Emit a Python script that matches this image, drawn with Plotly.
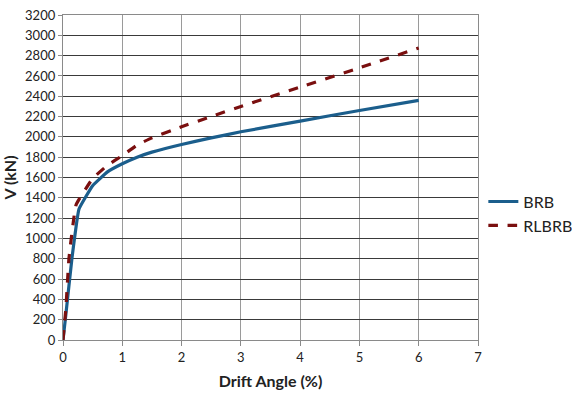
import plotly.graph_objects as go

# Drift angle (%) vs. storey shear V (kN)
brb_drift = [0, 0.05, 0.15, 0.27, 0.5, 0.75, 1.0, 1.25, 1.5, 2.0, 2.5, 3.0, 4.0, 5.0, 6.0]
brb_shear = [0, 260, 800, 1290, 1520, 1655, 1735, 1800, 1850, 1925, 1990, 2050, 2155, 2260, 2360]

rlbrb_drift = [0, 0.05, 0.1, 0.22, 0.5, 0.75, 1.0, 1.25, 1.5, 2.0, 2.5, 3.0, 4.0, 5.0, 6.0]
rlbrb_shear = [0, 320, 800, 1330, 1590, 1720, 1815, 1920, 1990, 2100, 2200, 2300, 2490, 2680, 2875]

x_ticks = [0, 1, 2, 3, 4, 5, 6, 7]
y_ticks = list(range(0, 3201, 200))

FONT = "Lato, Carlito, Calibri, sans-serif"

fig = go.Figure()
fig.add_trace(go.Scatter(
    x=brb_drift, y=brb_shear, name="BRB", mode="lines",
    line=dict(color="#1B5E8C", width=3.2, shape="spline", smoothing=0.3),
))
fig.add_trace(go.Scatter(
    x=rlbrb_drift, y=rlbrb_shear, name="RLBRB", mode="lines",
    line=dict(color="#7A0F0F", width=3.2, dash="dash", shape="spline", smoothing=0.3),
))

fig.update_layout(
    width=572, height=403,
    margin=dict(l=63, r=94, t=15, b=63, autoexpand=False),
    paper_bgcolor="white", plot_bgcolor="white",
    font=dict(family=FONT, size=13, color="#222"),
    legend=dict(
        xref="container", yref="container",
        x=0.845, y=0.47, xanchor="left", yanchor="middle",
        font=dict(size=16, color="#222"),
        tracegroupgap=14, itemwidth=30,
    ),
    xaxis=dict(
        range=[0, 7], tickvals=x_ticks, showgrid=True, gridcolor="#9a9a9a", gridwidth=1.3,
        showline=True, linecolor="#8a8a8a", linewidth=1.3, mirror=True,
        ticks="outside", ticklen=5, tickcolor="#8a8a8a", zeroline=False,
        title=dict(text="<b>Drift Angle (%)</b>", font=dict(size=16, color="#222"), standoff=12),
    ),
    yaxis=dict(
        range=[0, 3200], tickvals=y_ticks, showgrid=True, gridcolor="#3a3a3a", gridwidth=1,
        showline=True, linecolor="#8a8a8a", linewidth=1.3, mirror=True,
        ticks="outside", ticklen=4, tickcolor="#8a8a8a", zeroline=False,
        title=dict(text="<b>V (kN)</b>", font=dict(size=16, color="#222"), standoff=8),
    ),
)

fig.write_html("out.html")
